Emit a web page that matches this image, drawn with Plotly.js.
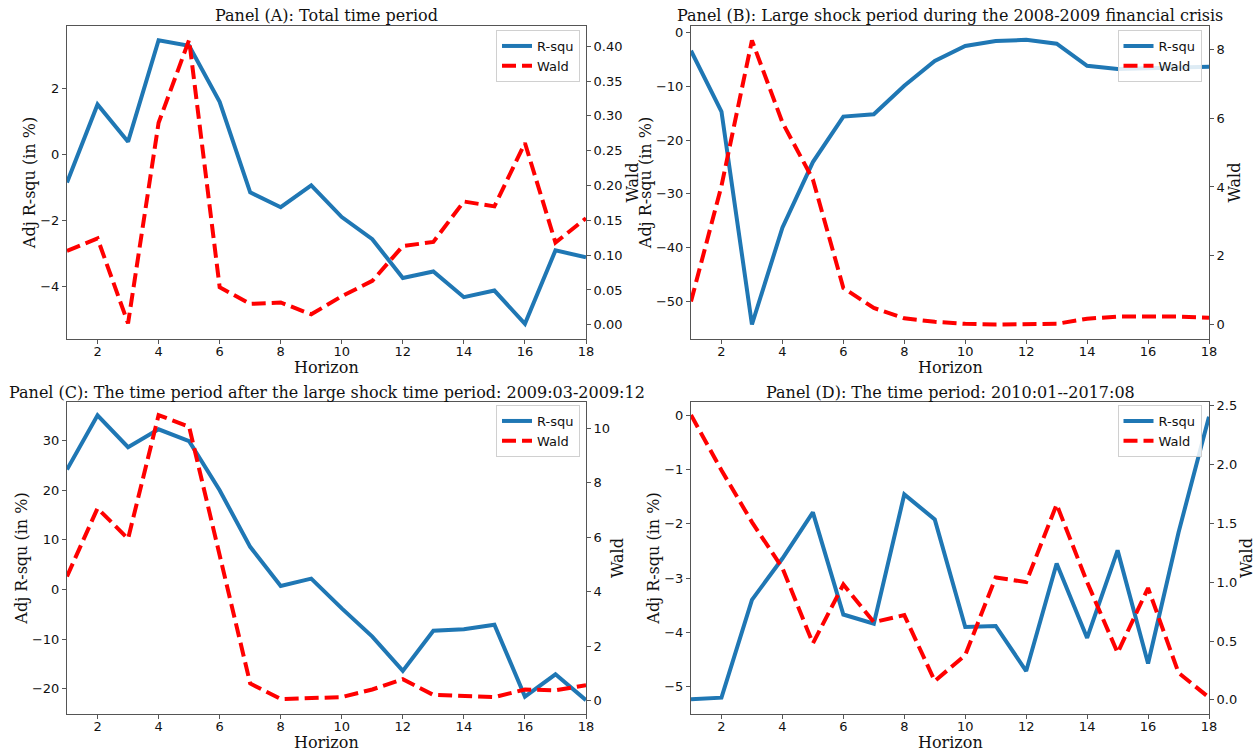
<!DOCTYPE html>
<html>
<head>
<meta charset="utf-8">
<script src="https://cdn.plot.ly/plotly-3.0.1.min.js"></script>
<style>html,body{margin:0;padding:0;background:#fff;}#chart{width:1258px;height:753px;}</style>
</head>
<body>
<div id="chart"></div>
<script>
const horizon = [1,2,3,4,5,6,7,8,9,10,11,12,13,14,15,16,17,18];

const rsqA  = [-0.85, 1.52, 0.39, 3.47, 3.30, 1.60, -1.15, -1.60, -0.94, -1.90, -2.57, -3.75, -3.55, -4.33, -4.13, -5.14, -2.91, -3.12];
const waldA = [0.106, 0.124, 0.002, 0.290, 0.409, 0.054, 0.030, 0.032, 0.015, 0.041, 0.063, 0.113, 0.119, 0.177, 0.170, 0.261, 0.118, 0.153];

const rsqB  = [-3.4, -14.7, -54.3, -36.3, -24.1, -15.65, -15.2, -9.9, -5.3, -2.5, -1.6, -1.37, -2.1, -6.2, -6.8, -6.7, -6.6, -6.4];
const waldB = [0.68, 4.03, 8.25, 5.87, 4.22, 1.07, 0.49, 0.19, 0.09, 0.03, 0.01, 0.01, 0.03, 0.18, 0.24, 0.24, 0.24, 0.21];

const rsqC  = [24.2, 35.1, 28.7, 32.3, 29.9, 20.0, 8.6, 0.7, 2.2, -3.8, -9.5, -16.4, -8.3, -8.0, -7.1, -21.6, -17.1, -22.3];
const waldC = [4.56, 7.06, 5.94, 10.48, 10.05, 5.4, 0.63, 0.06, 0.09, 0.13, 0.41, 0.79, 0.21, 0.16, 0.13, 0.41, 0.38, 0.57];

const rsqD  = [-5.23, -5.20, -3.40, -2.64, -1.79, -3.67, -3.84, -1.46, -1.92, -3.90, -3.88, -4.71, -2.73, -4.10, -2.49, -4.57, -2.16, -0.03];
const waldD = [2.42, 1.95, 1.51, 1.12, 0.48, 0.98, 0.66, 0.72, 0.16, 0.38, 1.04, 1.00, 1.66, 1.00, 0.40, 0.95, 0.23, 0.02];

const panelTitles = [
  "Panel (A): Total time period",
  "Panel (B): Large shock period during the 2008-2009 financial crisis",
  "Panel (C): The time period after the large shock time period: 2009:03-2009:12",
  "Panel (D): The time period: 2010:01--2017:08"
];
const seriesNames = ["R-squ", "Wald"];
const xTitle = "Horizon";
const yLeftTitle = "Adj R-squ (in %)";
const yRightTitle = "Wald";
const xTicks = [2,4,6,8,10,12,14,16,18];

const W = 1258, H = 753;
const BLUE = "#1f77b4", RED = "#ff0000";
const SERIF = "DejaVu Serif, serif";
const SANS = "DejaVu Sans, sans-serif";
const AXC = "#555";

// panel pixel boxes [left, right, top, bottom]
const boxes = [
  [67, 586, 26, 339],
  [691, 1209, 26, 339],
  [67, 586, 402, 714],
  [691, 1209, 402, 714]
];
const leftRanges  = [[-5.60, 3.90], [-57.0, 1.2], [-25.1, 37.8], [-5.50, 0.24]];
const rightRanges = [[-0.0204, 0.429], [-0.41, 8.67], [-0.49, 10.96], [-0.12, 2.53]];
const leftDticks  = [2, 10, 10, 1];
const rightDticks = [0.05, 2, 2, 0.5];
const rightFormats = [".2f", "d", "d", ".1f"];
const rsqSets  = [rsqA, rsqB, rsqC, rsqD];
const waldSets = [waldA, waldB, waldC, waldD];
const legendRight = [580, 1201.5, 580, 1201.5];
const legendTop   = [30, 30, 405, 405];

const traces = [];
const layout = {
  width: W, height: H,
  margin: {l: 0, r: 0, t: 0, b: 0},
  paper_bgcolor: "#fff", plot_bgcolor: "#fff",
  font: {family: SANS, size: 13, color: "#111"},
  showlegend: true,
  annotations: []
};

for (let i = 0; i < 4; i++) {
  const [L, R, T, B] = boxes[i];
  const xk = i === 0 ? "xaxis" : "xaxis" + (i + 1);
  const xid = i === 0 ? "x" : "x" + (i + 1);
  const yl = 2 * i + 1, yr = 2 * i + 2;
  const ylk = yl === 1 ? "yaxis" : "yaxis" + yl;
  const ylid = yl === 1 ? "y" : "y" + yl;
  const yrk = "yaxis" + yr, yrid = "y" + yr;
  const lgk = i === 0 ? "legend" : "legend" + (i + 1);

  const common = {
    showgrid: false, zeroline: false, showline: true, linecolor: AXC, linewidth: 1,
    ticks: "outside", ticklen: 4, tickwidth: 1, tickcolor: AXC,
    tickfont: {family: SANS, size: 13, color: "#111"}
  };

  layout[xk] = Object.assign({}, common, {
    domain: [L / W, R / W], anchor: ylid, range: [1, 18],
    tickmode: "array", tickvals: xTicks, mirror: true, ticklabelstandoff: -4
  });
  layout[ylk] = Object.assign({}, common, {
    domain: [1 - B / H, 1 - T / H], anchor: xid, range: leftRanges[i],
    dtick: leftDticks[i], tick0: 0,
    title: {text: yLeftTitle, font: {family: SERIF, size: 16, color: "#111"}, standoff: 0}
  });
  layout[yrk] = Object.assign({}, common, {
    overlaying: ylid, side: "right", anchor: xid, range: rightRanges[i],
    dtick: rightDticks[i], tick0: 0, tickformat: rightFormats[i],
    title: {text: yRightTitle, font: {family: SERIF, size: 16, color: "#111"}, standoff: 2}
  });
  layout[lgk] = {
    x: legendRight[i] / W, y: 1 - legendTop[i] / H, xanchor: "right", yanchor: "top",
    xref: "paper", yref: "paper",
    bgcolor: "rgba(255,255,255,0.85)", bordercolor: "#d0d0d0", borderwidth: 1,
    font: {family: SANS, size: 13, color: "#111"}, traceorder: "normal"
  };

  traces.push({
    x: horizon, y: rsqSets[i], xaxis: xid, yaxis: ylid, type: "scatter", mode: "lines",
    name: seriesNames[0], legend: lgk, line: {color: BLUE, width: 4}
  });
  traces.push({
    x: horizon, y: waldSets[i], xaxis: xid, yaxis: yrid, type: "scatter", mode: "lines",
    name: seriesNames[1], legend: lgk, line: {color: RED, width: 4, dash: "14px,6px"}
  });

  // panel title
  layout.annotations.push({
    text: panelTitles[i], xref: "paper", yref: "paper",
    x: ((L + R) / 2) / W, y: 1 - (T - 10) / H, xanchor: "center", yanchor: "middle",
    showarrow: false, borderpad: 0, font: {family: SERIF, size: 16, color: "#111"}
  });
  // x-axis title
  layout.annotations.push({
    text: xTitle, xref: "paper", yref: "paper",
    x: ((L + R) / 2) / W, y: 1 - (B + 28) / H, xanchor: "center", yanchor: "middle",
    showarrow: false, borderpad: 0, font: {family: SERIF, size: 16, color: "#111"}
  });
}

Plotly.newPlot("chart", traces, layout, {displayModeBar: false, staticPlot: true});
</script>
</body>
</html>
